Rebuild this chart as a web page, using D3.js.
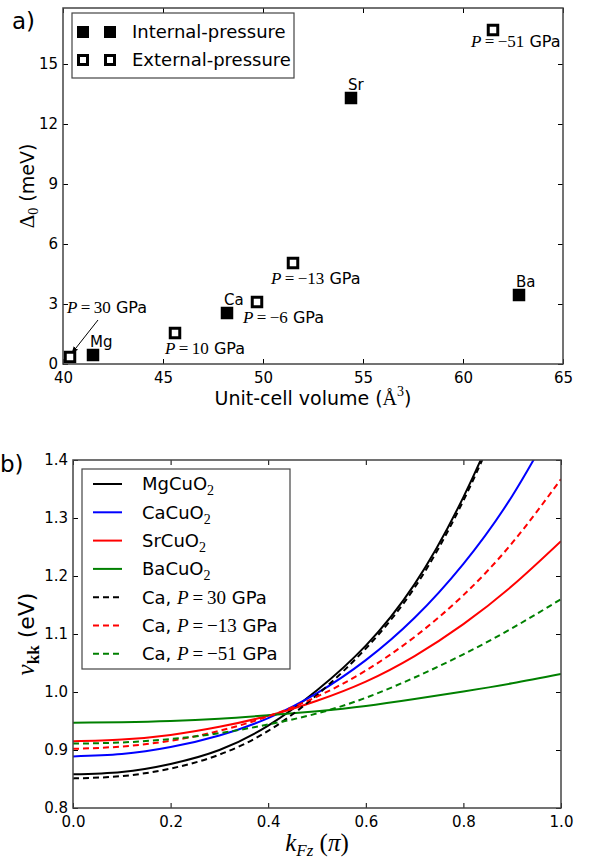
<!DOCTYPE html>
<html>
<head>
<meta charset="utf-8">
<script src="https://cdn.jsdelivr.net/npm/d3@7"></script>
<style>
  body { margin: 0; background: white; }
  text { font-family: "DejaVu Sans", sans-serif; }
  .math { font-family: "Liberation Serif", "DejaVu Serif", serif; }
</style>
</head>
<body>
<div id="fig"></div>
<script>
// panel a) data
let intLabels = ["Mg", "Ca", "Sr", "Ba"];
let intVolume = [41.5, 48.2, 54.4, 62.8];
let intGap    = [0.45, 2.55, 13.3, 3.45];

let extPressure = [30, 10, -6, -13, -51];
let extVolume   = [40.35, 45.6, 49.7, 51.5, 61.5];
let extGap      = [0.35, 1.55, 3.1, 5.05, 16.7];

let volTicks = [40, 45, 50, 55, 60, 65];
let gapTicks = [0, 3, 6, 9, 12, 15];

// panel b) data
let kGrid = [0, 0.1, 0.2, 0.3, 0.4, 0.5, 0.6, 0.7, 0.8, 0.9, 1.0];
let vMg     = [0.858, 0.862, 0.876, 0.900, 0.942, 1.003, 1.080, 1.186, 1.336, 1.536, 1.800];
let vCa     = [0.889, 0.893, 0.905, 0.925, 0.955, 0.998, 1.055, 1.128, 1.221, 1.338, 1.485];
let vSr     = [0.915, 0.918, 0.926, 0.940, 0.959, 0.985, 1.018, 1.062, 1.117, 1.183, 1.260];
let vBa     = [0.947, 0.948, 0.950, 0.954, 0.960, 0.967, 0.976, 0.988, 1.001, 1.015, 1.031];
let vCaP30  = [0.851, 0.855, 0.868, 0.892, 0.933, 0.995, 1.075, 1.180, 1.330, 1.530, 1.790];
let vCaPm13 = [0.902, 0.906, 0.916, 0.933, 0.958, 0.992, 1.037, 1.095, 1.167, 1.257, 1.367];
let vCaPm51 = [0.911, 0.913, 0.919, 0.929, 0.944, 0.963, 0.990, 1.025, 1.065, 1.110, 1.160];

let seriesNames = ["MgCuO", "CaCuO", "SrCuO", "BaCuO", "Ca, ", "Ca, ", "Ca, "];
let seriesP     = [null, null, null, null, 30, -13, -51];
let seriesVals  = [vMg, vCa, vSr, vBa, vCaP30, vCaPm13, vCaPm51];
let seriesCol   = ["black", "blue", "red", "green", "black", "red", "green"];

let kTicks = [0, 0.2, 0.4, 0.6, 0.8, 1.0];
let vTicks = [0.8, 0.9, 1.0, 1.1, 1.2, 1.3, 1.4];

let larg = 593;
let alt = 861;
let spine = "#444";

let svg = d3.select("#fig")
            .append("svg")
            .attr("width", larg)
            .attr("height", alt);

// P=... GPa with the P in math italic
function pLabel(sel, p, size) {
    sel.append("tspan").attr("class", "math").style("font-size", size + "px")
        .style("font-style", "italic").text("P");
    sel.append("tspan").attr("class", "math").style("font-size", size + "px")
        .text("\u2009=\u2009" + (p < 0 ? "\u2212" + (-p) : p));
    sel.append("tspan").text(" GPa");
}

// frame + inward ticks on four sides
function frame(g, x, y, xt, yt, fmtX, fmtY) {
    let [x0, x1] = x.range();
    let [y0, y1] = y.range();
    let sides = [
        [d3.axisBottom(x).tickValues(xt).tickFormat(fmtX).tickPadding(8), 0, y0],
        [d3.axisTop(x).tickValues(xt).tickFormat(""), 0, y1],
        [d3.axisLeft(y).tickValues(yt).tickFormat(fmtY).tickPadding(5), x0, 0],
        [d3.axisRight(y).tickValues(yt).tickFormat(""), x1, 0]
    ];
    sides.forEach(function(s) {
        let a = g.append("g")
                 .attr("transform", "translate(" + s[1] + "," + s[2] + ")")
                 .call(s[0].tickSize(-5).tickSizeOuter(0));
        a.select(".domain").remove();
        a.selectAll("line").attr("stroke", "black").attr("stroke-width", 1);
        a.selectAll("text").style("font", "15px 'DejaVu Sans'").attr("fill", "black");
    });
    g.append("rect")
        .attr("x", x0).attr("y", y1)
        .attr("width", x1 - x0).attr("height", y0 - y1)
        .attr("fill", "none")
        .attr("stroke", spine)
        .attr("stroke-width", 1.5);
}

// ---------- panel a)
let xA = d3.scaleLinear().domain([40, 65]).range([63, 563]);
let yA = d3.scaleLinear().domain([0, 17.8]).range([364, 8]);
let ga = svg.append("g");

let ms = 12.5;

ga.selectAll(".int")
    .data(intVolume)
    .enter()
    .append("rect")
    .attr("class", "int")
    .attr("x", (d) => xA(d) - ms / 2)
    .attr("y", (d, i) => yA(intGap[i]) - ms / 2)
    .attr("width", ms).attr("height", ms)
    .attr("fill", "black");

ga.selectAll(".intlab")
    .data(intLabels)
    .enter()
    .append("text")
    .attr("class", "intlab")
    .attr("x", (d, i) => xA(intVolume[i]) - 3)
    .attr("y", (d, i) => yA(intGap[i]) - 8)
    .style("font-size", "15px")
    .text((d) => d);

ga.selectAll(".ext")
    .data(extVolume)
    .enter()
    .append("rect")
    .attr("class", "ext")
    .attr("x", (d) => xA(d) - ms / 2 + 1.5)
    .attr("y", (d, i) => yA(extGap[i]) - ms / 2 + 1.5)
    .attr("width", ms - 3).attr("height", ms - 3)
    .attr("fill", "white")
    .attr("stroke", "black")
    .attr("stroke-width", 3);

svg.append("defs").append("marker")
    .attr("id", "head")
    .attr("viewBox", "0 0 10 10")
    .attr("refX", 9).attr("refY", 5)
    .attr("markerWidth", 7).attr("markerHeight", 7)
    .attr("orient", "auto")
    .append("path")
    .attr("d", "M0,1 L10,5 L0,9 z")
    .attr("fill", "black");

extPressure.forEach(function(p, i) {
    let px = xA(extVolume[i]), py = yA(extGap[i]);
    let t = ga.append("text").style("font-size", "16px");
    if (i == 0) {
        t.attr("x", px - 3).attr("y", py - 44);
        ga.append("line")
            .attr("x1", px + 28).attr("y1", py - 37)
            .attr("x2", px + 2).attr("y2", py - 4)
            .attr("stroke", "black").attr("stroke-width", 1)
            .attr("marker-end", "url(#head)");
    } else {
        let dx = p < -10 ? -22 : (p < 0 ? -14 : -10);
        let dy = p < -40 ? 17 : 21;
        t.attr("x", px + dx).attr("y", py + dy);
    }
    pLabel(t, p, 17);
});

frame(ga, xA, yA, volTicks, gapTicks, d3.format("d"), d3.format("d"));

// legend a)
let legA = ga.append("g");
legA.append("rect")
    .attr("x", 72).attr("y", 13).attr("width", 222).attr("height", 65)
    .attr("fill", "white").attr("stroke", spine).attr("stroke-width", 1.2);
["Internal-pressure", "External-pressure"].forEach(function(lab, i) {
    let yy = 32 + i * 28;
    [83, 110].forEach(function(xx) {
        if (i == 0) {
            legA.append("rect").attr("x", xx - 6).attr("y", yy - 6)
                .attr("width", 12).attr("height", 12).attr("fill", "black");
        } else {
            legA.append("rect").attr("x", xx - 4.5).attr("y", yy - 4.5)
                .attr("width", 9).attr("height", 9)
                .attr("fill", "white").attr("stroke", "black").attr("stroke-width", 3);
        }
    });
    legA.append("text").attr("x", 132).attr("y", yy).attr("dy", "0.35em")
        .style("font-size", "18px").text(lab);
});

// axis labels a)
let xla = svg.append("text")
    .attr("x", 313).attr("y", 405)
    .attr("text-anchor", "middle")
    .style("font-size", "19px");
xla.append("tspan").text("Unit-cell volume (");
xla.append("tspan").attr("class", "math").style("font-size", "20px").text("\u00C5");
xla.append("tspan").attr("class", "math").attr("dy", -9).style("font-size", "14px").text("3");
xla.append("tspan").attr("dy", 9).text(")");

let yla = svg.append("text")
    .attr("transform", "translate(34,186) rotate(-90)")
    .attr("text-anchor", "middle")
    .style("font-size", "19px");
yla.append("tspan").attr("class", "math").style("font-size", "21px").text("\u0394");
yla.append("tspan").attr("class", "math").attr("dy", 4).style("font-size", "14px").text("0");
yla.append("tspan").attr("dy", -4).text(" (meV)");

svg.append("text").attr("x", 12).attr("y", 29).style("font-size", "23px").text("a)");

// ---------- panel b)
let xB = d3.scaleLinear().domain([0, 1]).range([73, 561]);
let yB = d3.scaleLinear().domain([0.8, 1.4]).range([808, 460]);
let gb = svg.append("g");

svg.select("defs").append("clipPath").attr("id", "clipB")
    .append("rect")
    .attr("x", 73).attr("y", 460).attr("width", 488).attr("height", 348);

let linha = d3.line()
    .x((d, i) => xB(kGrid[i]))
    .y((d) => yB(d))
    .curve(d3.curveNatural);

gb.append("g")
    .attr("clip-path", "url(#clipB)")
    .selectAll("path")
    .data(seriesVals)
    .enter()
    .append("path")
    .attr("d", linha)
    .attr("fill", "none")
    .attr("stroke", (d, i) => seriesCol[i])
    .attr("stroke-width", 2)
    .attr("stroke-dasharray", (d, i) => seriesP[i] == null ? null : "6,4");

frame(gb, xB, yB, kTicks, vTicks, d3.format(".1f"), d3.format(".1f"));

// legend b)
let legB = gb.append("g");
legB.append("rect")
    .attr("x", 82).attr("y", 469).attr("width", 208).attr("height", 200)
    .attr("fill", "white").attr("stroke", spine).attr("stroke-width", 1.2);
seriesNames.forEach(function(nm, i) {
    let yy = 484 + i * 28.3;
    legB.append("line")
        .attr("x1", 93).attr("x2", 122).attr("y1", yy).attr("y2", yy)
        .attr("stroke", seriesCol[i]).attr("stroke-width", 2)
        .attr("stroke-dasharray", seriesP[i] == null ? null : "6,4");
    let t = legB.append("text").attr("x", 142).attr("y", yy).attr("dy", "0.35em")
        .style("font-size", "18px");
    if (seriesP[i] == null) {
        t.append("tspan").text(nm);
        t.append("tspan").attr("class", "math").attr("dy", 5).style("font-size", "14px").text("2");
    } else {
        t.append("tspan").text(nm);
        pLabel(t, seriesP[i], 19);
    }
});

// axis labels b)
let xlb = svg.append("text")
    .attr("x", 317).attr("y", 851)
    .attr("text-anchor", "middle")
    .attr("class", "math")
    .style("font-size", "25px");
xlb.append("tspan").style("font-style", "italic").text("k");
xlb.append("tspan").style("font-style", "italic").style("font-size", "17px").attr("dy", 5).text("Fz");
xlb.append("tspan").attr("dy", -5).text(" (");
xlb.append("tspan").style("font-style", "italic").text("\u03C0");
xlb.append("tspan").text(")");

let ylb = svg.append("text")
    .attr("transform", "translate(34,634) rotate(-90)")
    .attr("text-anchor", "middle")
    .style("font-size", "22px");
ylb.append("tspan").attr("class", "math").style("font-style", "italic").style("font-size", "25px").text("v");
ylb.append("tspan").attr("class", "math").style("font-weight", "bold").style("font-size", "17px").attr("dy", 5).text("kk");
ylb.append("tspan").attr("dy", -5).text(" (eV)");

svg.append("text").attr("x", 0).attr("y", 472).style("font-size", "23px").text("b)");
</script>
</body>
</html>
